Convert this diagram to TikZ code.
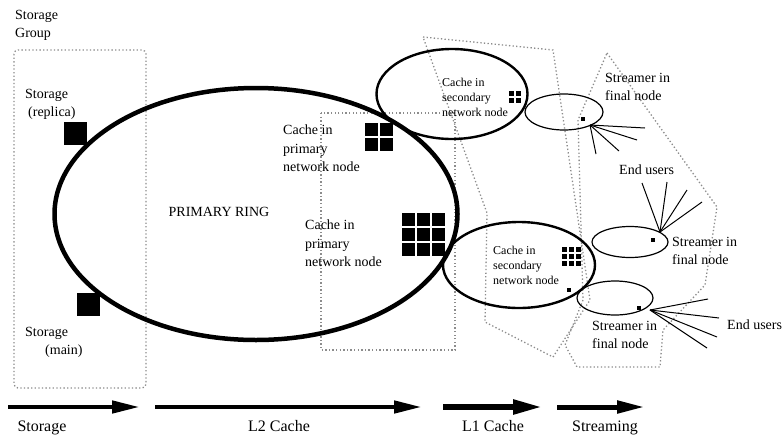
\documentclass[tikz,border=0pt]{standalone}
\usepackage{fontspec}
\setmainfont{Liberation Serif}
\usetikzlibrary{arrows.meta,shapes.geometric}

\begin{document}
\begin{tikzpicture}[
    x=1pt, y=-1pt,
    ring/.style={
        ellipse,
        draw,
        line width=4.5pt,
        inner sep=0pt
    },
    cachering/.style={
        ellipse,
        draw,
        line width=2.4pt,
        inner sep=0pt
    },
    streamer/.style={
        ellipse,
        draw,
        line width=1.2pt,
        inner sep=0pt
    },
    block/.style={
        rectangle,
        fill=black,
        inner sep=0pt,
        minimum size=#1
    },
    txt/.style={
        align=left,
        anchor=north west,
        inner sep=0pt,
        font=\fontsize{14}{18.5}\selectfont
    },
    smalltxt/.style={
        txt,
        font=\fontsize{12}{15}\selectfont
    },
    stagetxt/.style={
        anchor=base,
        inner sep=0pt,
        font=\fontsize{16}{18}\selectfont
    },
    region/.style={
        draw=black!45,
        line width=1.3pt,
        dash pattern=on 1.3pt off 2.3pt
    },
    user/.style={
        line width=1pt
    },
    stage/.style={
        line width=4.5pt,
        -{Triangle[length=28pt,width=12pt]}
    }
]
\useasboundingbox (0,0) rectangle (782,437);
\fill[white] (0,0) rectangle (782,437);

% Regions
\draw[region, rounded corners=4pt] (14,50) rectangle (146,388);
\draw[region] (321,113) rectangle (455,350);
\draw[region] (423,37) -- (553,50) -- (590,300) -- (553,357)
    -- (485,322) -- (487,213) -- cycle;
\draw[region] (607,53) -- (717,207) -- (705,285) -- (663,330)
    -- (660,367) -- (577,367) -- (565,345) -- (583,300) -- (578,120) -- cycle;

% Rings
\node[ring, minimum width=403pt, minimum height=252pt] (ring) at (256,214) {};
\node[cachering, minimum width=151pt, minimum height=90pt] (secA) at (452,94) {};
\node[cachering, minimum width=152pt, minimum height=86pt] (secB) at (519,265) {};
\node[streamer, minimum width=78pt, minimum height=36pt] (strA) at (564,112) {};
\node[streamer, minimum width=76pt, minimum height=31pt] (strB) at (630,242) {};
\node[streamer, minimum width=76pt, minimum height=34pt] (strC) at (615,298) {};

% Storage
\node[block=23pt] (replica) at (75,133.5) {};
\node[block=23pt] (main) at (88.5,304.5) {};

% Caches
\foreach \i in {0,1} \foreach \j in {0,1}
    \node[block=13pt] (pa\i\j) at (371.5+15*\i, 129.5+15*\j) {};
\foreach \i in {0,1,2} \foreach \j in {0,1,2}
    \node[block=13pt] (pb\i\j) at (408.5+15*\i, 219.5+15*\j) {};
\foreach \i in {0,1} \foreach \j in {0,1}
    \node[block=5pt] (sa\i\j) at (511.5+7*\i, 93.5+7*\j) {};
\foreach \i in {0,1,2} \foreach \j in {0,1,2}
    \node[block=5pt] (sb\i\j) at (564.5+7*\i, 249.5+7*\j) {};
\node[block=4pt] (secBdot) at (569,290) {};
\node[block=4pt] (strAdot) at (583,119) {};
\node[block=4pt] (strBdot) at (653,240) {};
\node[block=4pt] (strCdot) at (639,308) {};

% End users
\coordinate (hubA) at (590,125);
\coordinate (hubB) at (660,232);
\coordinate (hubC) at (650,310);
\foreach \dx/\dy in {55/3, 47/15, 29/26, 6/29}
    \draw[user] (hubA) -- ++(\dx,\dy);
\foreach \dx/\dy in {-18/-49, 7/-50, 27/-42, 42/-30}
    \draw[user] (hubB) -- ++(\dx,\dy);
\foreach \dx/\dy in {58/-11, 69/8, 67/27, 57/38}
    \draw[user] (hubC) -- ++(\dx,\dy);

% Labels
\node[txt] (grouplbl) at (15,10) {Storage\\Group};
\node[txt] (replicalbl) at (25,89) {Storage\\\hspace*{3pt}(replica)};
\node[txt] (mainlbl) at (25,327) {Storage\\\hspace*{20pt}(main)};
\node[font=\fontsize{14}{16}\selectfont] (ringlbl) at (219,212) {PRIMARY RING};
\node[txt] (primAlbl) at (283,125) {Cache in\\primary\\network node};
\node[txt] (primBlbl) at (305,220) {Cache in\\primary\\network node};
\node[smalltxt] (secAlbl) at (442,78) {Cache in\\secondary\\network node};
\node[smalltxt] (secBlbl) at (493,246) {Cache in\\secondary\\network node};
\node[txt] (strAlbl) at (605,73) {Streamer in\\final node};
\node[txt] (usersA) at (619,165) {End users};
\node[txt] (strBlbl) at (672,237) {Streamer in\\final node};
\node[txt] (strClbl) at (592,321) {Streamer in\\final node};
\node[txt] (usersC) at (727,320) {End users};

% Stages
\coordinate (st0) at (8,407);   \coordinate (st1) at (140,407);
\coordinate (l20) at (155,407); \coordinate (l21) at (422,407);
\coordinate (l10) at (443,407); \coordinate (l11) at (542,407);
\coordinate (sm0) at (557,407); \coordinate (sm1) at (645,407);
\draw[stage] (st0) -- (st1);
\draw[stage] (l20) -- (l21);
\draw[stage, line width=5.5pt, -{Triangle[length=29pt,width=14pt]}] (l10) -- (l11);
\draw[stage, line width=5pt] (sm0) -- (sm1);
\node[stagetxt] (storagelbl) at (42,431) {Storage};
\node[stagetxt] (l2lbl) at (279,431) {L2 Cache};
\node[stagetxt] (l1lbl) at (493,431) {L1 Cache};
\node[stagetxt] (streamlbl) at (605,431) {Streaming};

\end{tikzpicture}
\end{document}
